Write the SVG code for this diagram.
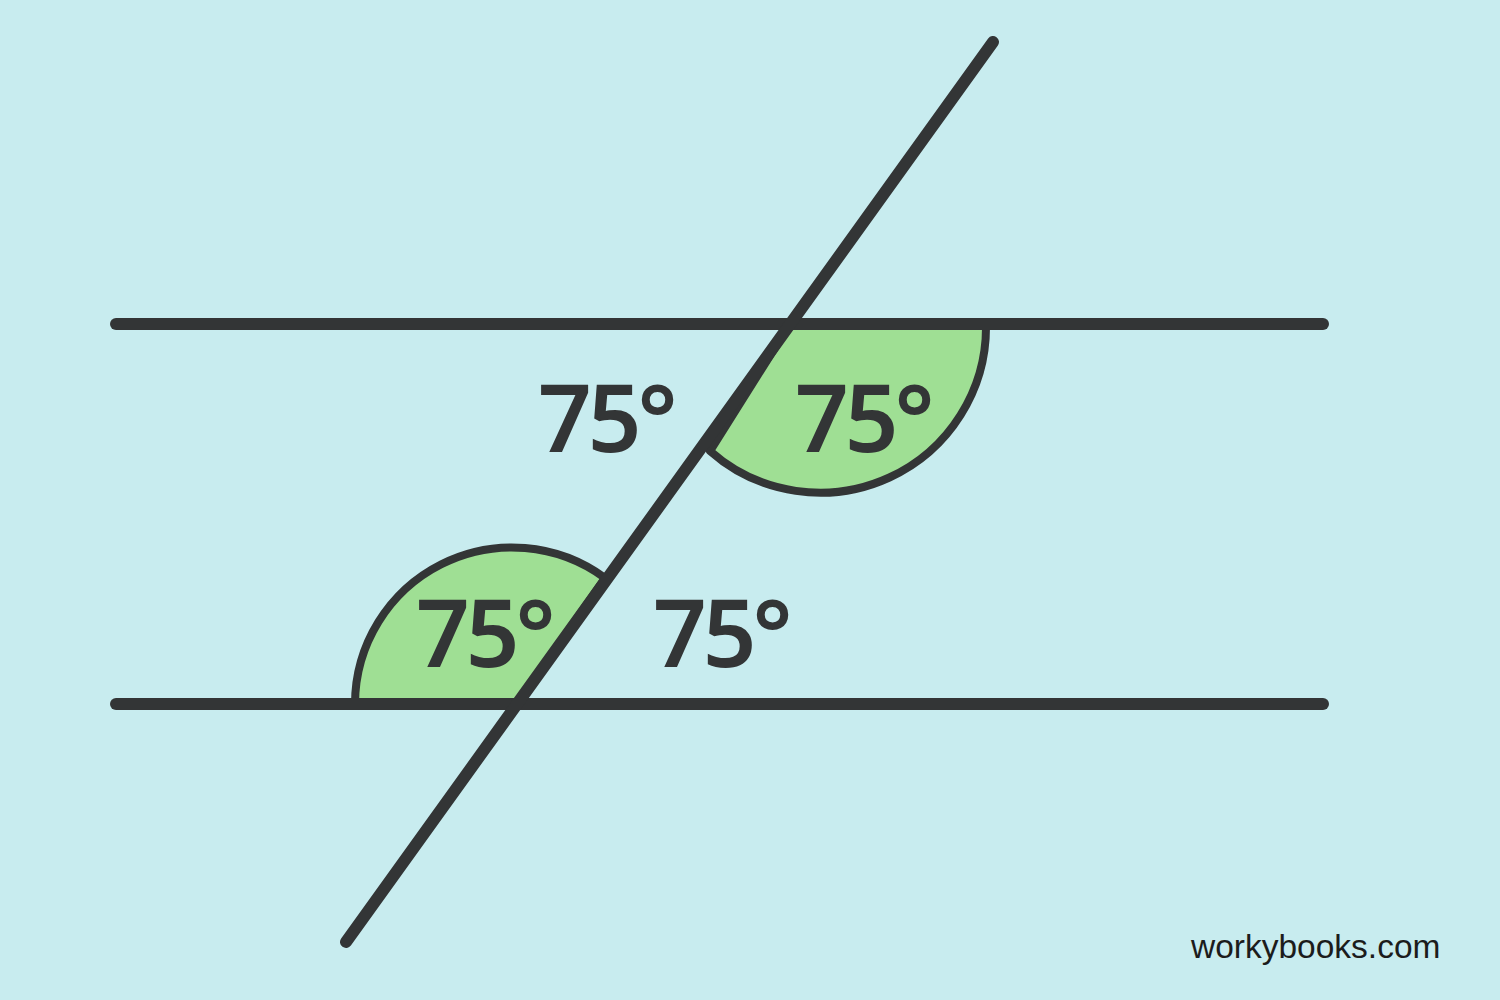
<svg xmlns="http://www.w3.org/2000/svg" width="1500" height="1000" viewBox="0 0 1500 1000">
<style>
.ln{stroke:#333536;stroke-width:12;stroke-linecap:round;fill:none}
.sec{fill:#9fdf94;stroke:#333536;stroke-width:8;stroke-linejoin:round}
.lbl{font-family:"Noto Sans","DejaVu Sans",sans-serif;font-weight:600;font-size:94px;fill:#333536;letter-spacing:-4px}
.wm{font-family:"Liberation Sans",Arial,sans-serif;font-size:33.5px;fill:#1c1c1c}
</style>
<rect width="1500" height="1000" fill="#c8ecef"/>
<g id="sector-top">
<path class="sec" d="M790,324 L986,324 A166,166 0 0 1 710,451 Z"/>
</g>
<g id="sector-bottom">
<path class="sec" d="M517,704 L355,704 A157,157 0 0 1 605,578 Z"/>
</g>
<g id="connectors">
<line class="ln" x1="116" y1="324" x2="1323" y2="324"/>
<line class="ln" x1="116" y1="704" x2="1323" y2="704"/>
<line class="ln" x1="993" y1="42" x2="346" y2="942"/>
</g>
<g id="label-1"><text class="lbl" x="538" y="452">75°</text></g>
<g id="label-2"><text class="lbl" x="795" y="452">75°</text></g>
<g id="label-3"><text class="lbl" x="416" y="667">75°</text></g>
<g id="label-4"><text class="lbl" x="653" y="667">75°</text></g>
<g id="watermark"><text class="wm" x="1191" y="958">workybooks.com</text></g>
</svg>
